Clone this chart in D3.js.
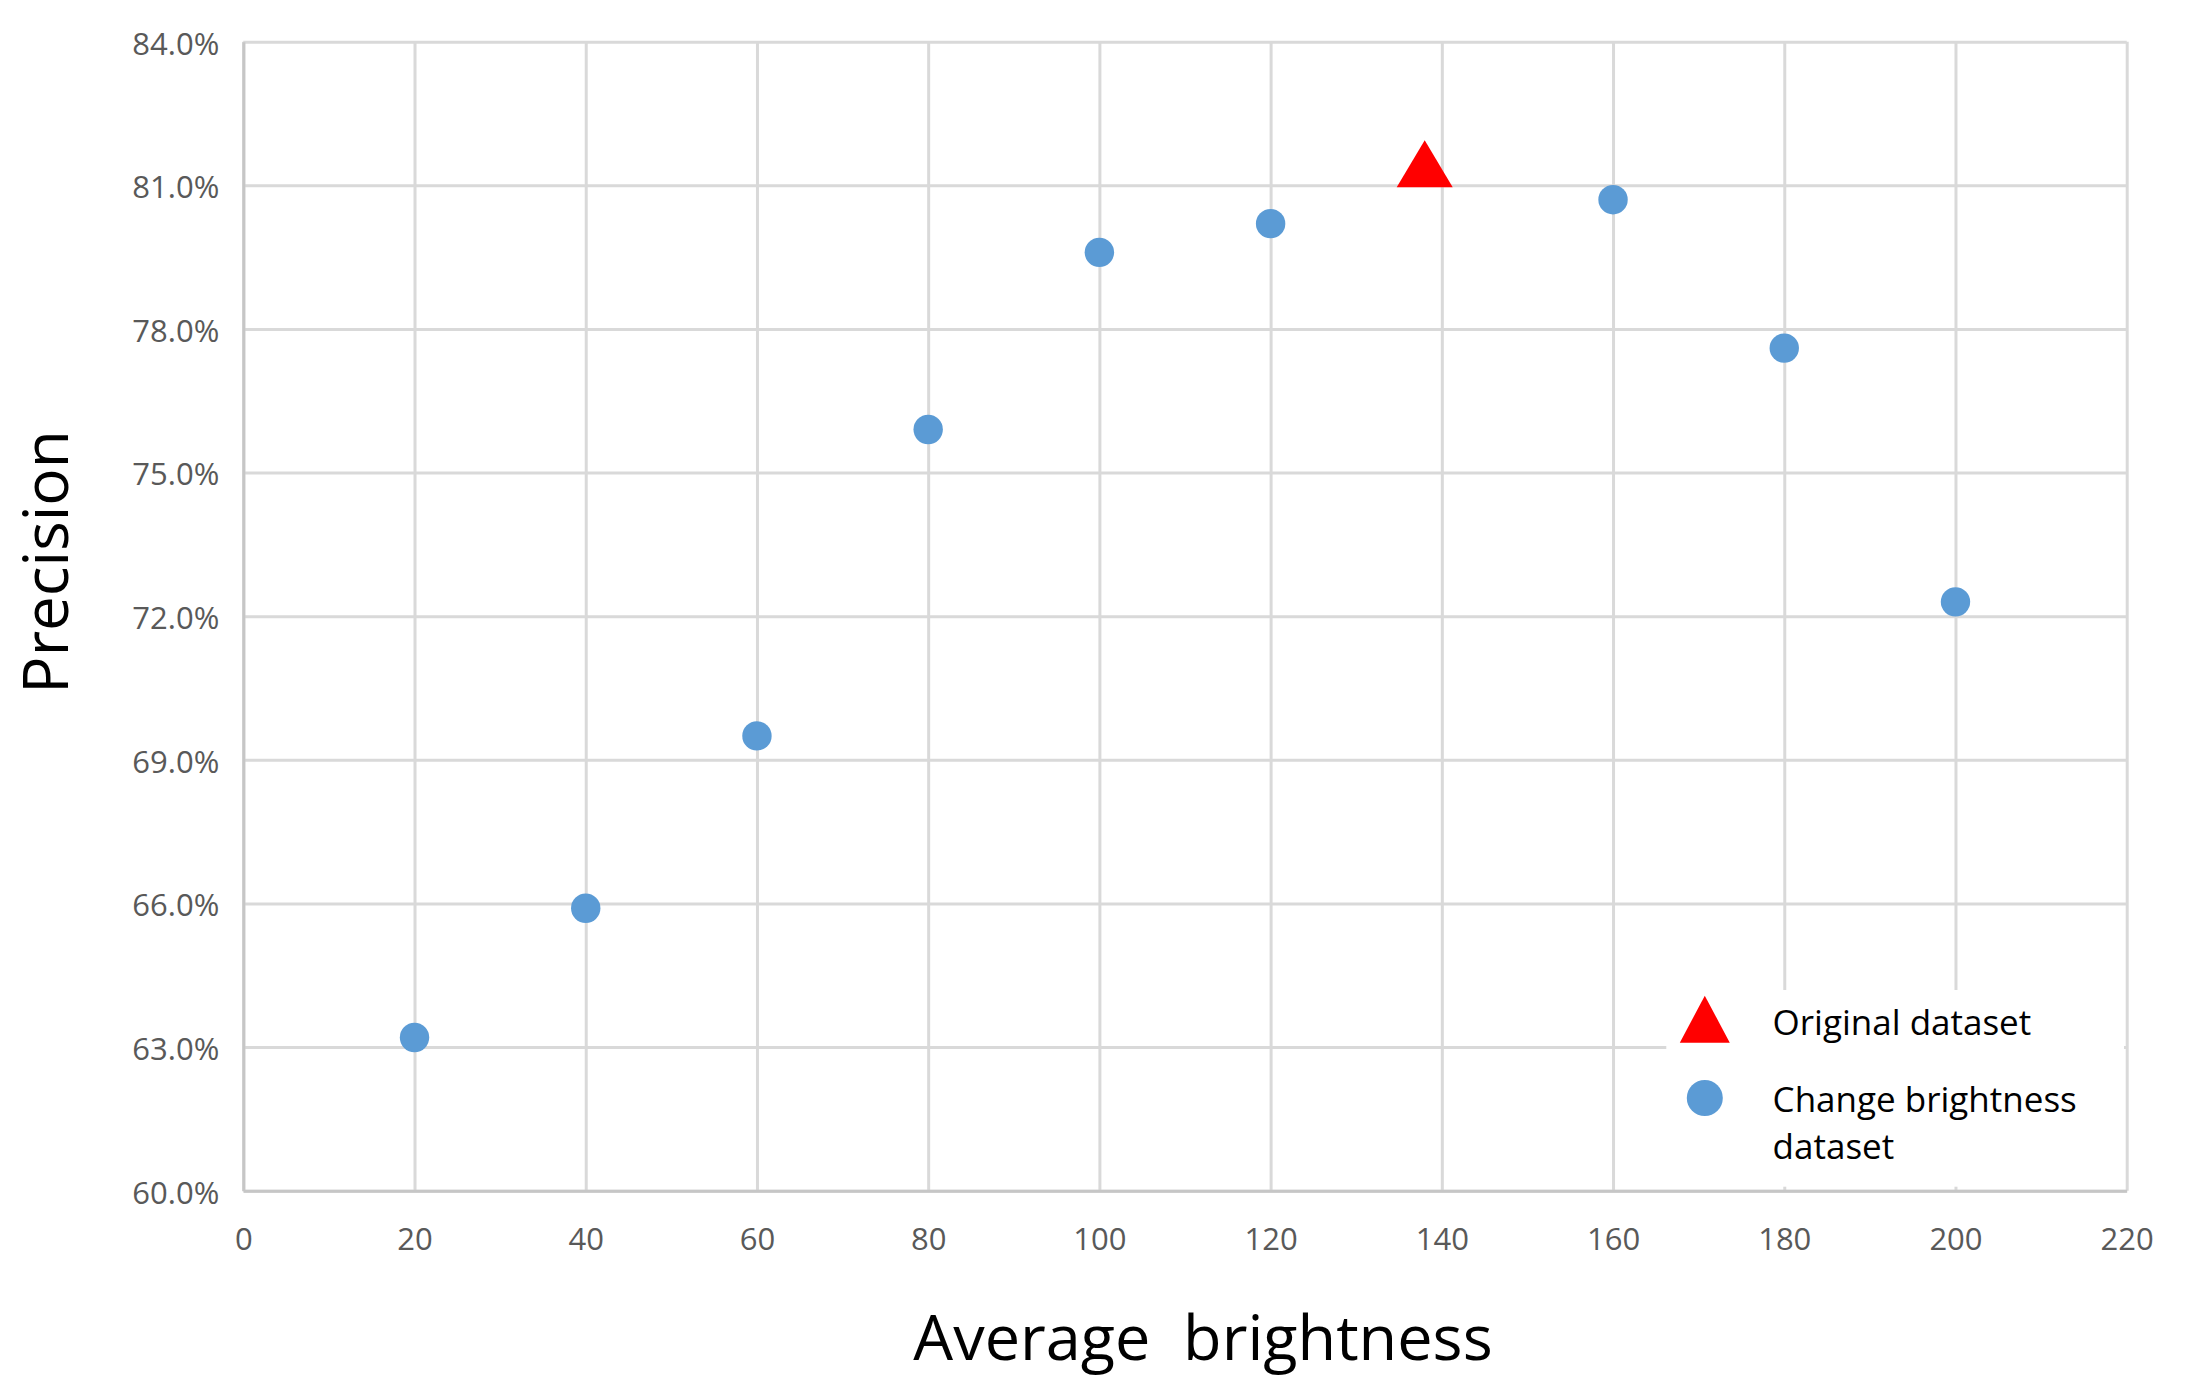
<!DOCTYPE html>
<html>
<head>
<meta charset="utf-8">
<script src="https://cdn.jsdelivr.net/npm/d3@7"></script>
<style>
  body { margin: 0; background: #fff; }
  svg { display: block; }
</style>
</head>
<body>
<svg id="chart" width="2211" height="1383"></svg>
<script>
// data
const brightness = [20, 40, 60, 80, 100, 120, 160, 180, 200];
const precision = [63.2, 65.9, 69.5, 75.9, 79.6, 80.2, 80.7, 77.6, 72.3];
const originalBrightness = [138];
const originalPrecision = [81.45];

const xTicks = [0, 20, 40, 60, 80, 100, 120, 140, 160, 180, 200, 220];
const yTicks = [60, 63, 66, 69, 72, 75, 78, 81, 84];

const legendLabels = [["Original dataset"], ["Change brightness", "dataset"]];

const W = 2211, H = 1383;
const margin = {top: 41.7, right: 84.3, bottom: 192.3, left: 243.3};
const width = W - margin.left - margin.right;
const height = H - margin.top - margin.bottom;

const font = "'Open Sans', sans-serif";
const gridColor = "#d9d9d9";
const axisColor = "#c6c6c6";
const tickColor = "#595959";
const blue = "#5b9bd5";
const red = "#ff0000";

const svg = d3.select("#chart");
svg.append("rect").attr("width", W).attr("height", H).attr("fill", "#fff");

const g = svg.append("g")
    .attr("transform", "translate(" + margin.left + "," + margin.top + ")");

const x = d3.scaleLinear().domain([0, 220]).range([0, width]);
const y = d3.scaleLinear().domain([60, 84]).range([height, 0]);

// grid lines
g.append("g")
    .attr("class", "grid")
    .attr("transform", "translate(0," + height + ")")
    .call(d3.axisBottom(x).tickValues(xTicks).tickSize(-height).tickFormat(""))
    .call(s => s.select(".domain").remove())
    .call(s => s.selectAll("line").attr("stroke", gridColor).attr("stroke-width", 3));

g.append("g")
    .attr("class", "grid")
    .call(d3.axisLeft(y).tickValues(yTicks).tickSize(-width).tickFormat(""))
    .call(s => s.select(".domain").remove())
    .call(s => s.selectAll("line").attr("stroke", gridColor).attr("stroke-width", 3));

// legend box hides the grid behind it
const legendX = 1666.3 - margin.left, legendY = 990 - margin.top;
g.append("rect")
    .attr("x", legendX)
    .attr("y", legendY)
    .attr("width", 2124 - 1666.3)
    .attr("height", height - legendY - 4)
    .attr("fill", "#fff");

// axes
const xAxis = g.append("g")
    .attr("transform", "translate(0," + height + ")")
    .call(d3.axisBottom(x).tickValues(xTicks).tickSize(0).tickPadding(37));
xAxis.select(".domain").attr("stroke", axisColor).attr("stroke-width", 3);
xAxis.selectAll("text")
    .attr("fill", tickColor)
    .style("font-family", font)
    .style("font-size", "31px");

const yAxis = g.append("g")
    .call(d3.axisLeft(y).tickValues(yTicks).tickSize(0).tickPadding(24)
        .tickFormat(d => d.toFixed(1) + "%"));
yAxis.select(".domain").attr("stroke", axisColor).attr("stroke-width", 3);
yAxis.selectAll("text")
    .attr("fill", tickColor)
    .attr("dy", "0.4em")
    .style("font-family", font)
    .style("font-size", "31px");

// triangle path centred on its bounding box
const triangle = (w, h) => "M0," + (-h / 2) + "L" + (w / 2) + "," + (h / 2) + "L" + (-w / 2) + "," + (h / 2) + "Z";

// points
g.selectAll(".dot")
    .data(brightness.map((b, i) => ({b: b, p: precision[i]})))
    .enter()
    .append("circle")
    .attr("class", "dot")
    .attr("cx", d => x(d.b))
    .attr("cy", d => y(d.p))
    .attr("r", 14.7)
    .attr("fill", blue);

g.selectAll(".orig")
    .data(originalBrightness.map((b, i) => ({b: b, p: originalPrecision[i]})))
    .enter()
    .append("path")
    .attr("class", "orig")
    .attr("d", triangle(56, 47))
    .attr("transform", d => "translate(" + x(d.b) + "," + y(d.p) + ")")
    .attr("fill", red);

// axis titles
svg.append("text")
    .attr("x", 1203)
    .attr("y", 1360)
    .attr("text-anchor", "middle")
    .style("font-family", font)
    .style("font-size", "63px")
    .style("white-space", "pre")
    .attr("fill", "#000")
    .text("Average  brightness");

svg.append("text")
    .attr("transform", "translate(68,562) rotate(-90)")
    .attr("text-anchor", "middle")
    .style("font-family", font)
    .style("font-size", "62px")
    .attr("fill", "#000")
    .text("Precision");

// legend
const legend = svg.append("g");
legend.append("path")
    .attr("d", triangle(50, 47))
    .attr("transform", "translate(1704.8,1019.2)")
    .attr("fill", red);
legend.append("circle")
    .attr("cx", 1704.8)
    .attr("cy", 1098)
    .attr("r", 18)
    .attr("fill", blue);

const legendBaselines = [[1035], [1112, 1159]];
legendLabels.forEach((lines, i) => {
    const t = legend.append("text")
        .style("font-family", font)
        .style("font-size", "35px")
        .attr("fill", "#000");
    lines.forEach((line, j) => {
        t.append("tspan")
            .attr("x", 1772.6)
            .attr("y", legendBaselines[i][j])
            .text(line);
    });
});
</script>
</body>
</html>
